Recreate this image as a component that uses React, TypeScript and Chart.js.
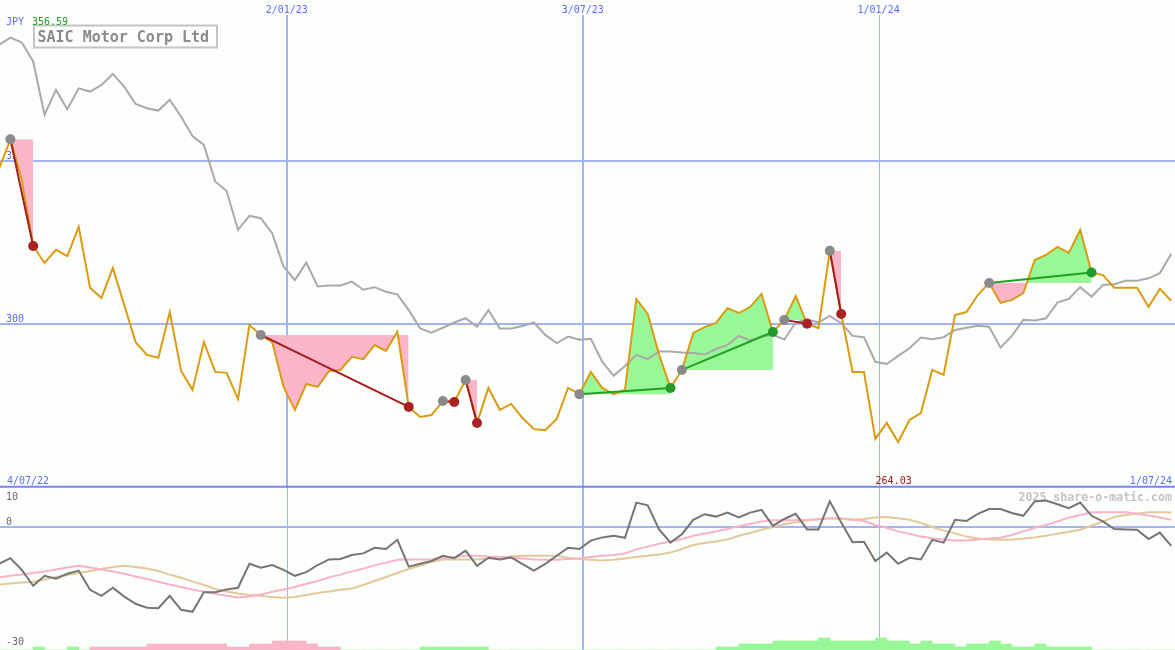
import React, { useEffect, useRef } from 'react';
import { Chart, registerables } from 'chart.js';

Chart.register(...registerables);

// ---------------- data ----------------
const companyName = 'SAIC Motor Corp Ltd';
const currencyLabel = 'JPY';
const firstCloseDate = '9/07/22';
const axisStartLabel = '4/07/22';
const axisEndLabel = '1/07/24';
const dateGridLabels = ['2/01/23', '3/07/23', '1/01/24'];
const priceGridValues = [350, 300];
const oscillatorTickValues = [10, 0, -30];
const watermark = '2025 share-o-matic.com';

// weekly closes
const price = [
  347.6, 356.59, 344.2, 324.0, 318.8, 322.8, 320.9, 329.8, 311.2, 308.1,
  317.3, 306.0, 294.6, 290.7, 289.8, 303.8, 285.8, 280.0, 294.6, 285.5,
  285.2, 277.2, 299.8, 296.8, 294.6, 280.9, 273.9, 281.8, 280.9, 285.8,
  286.1, 290.1, 289.4, 293.7, 291.9, 297.7, 274.8, 271.7, 272.3, 276.6,
  276.3, 283.0, 269.9, 280.6, 273.9, 275.7, 271.4, 268.0, 267.7, 271.1,
  280.6, 278.7, 285.5, 280.6, 278.7, 280.0, 307.8, 303.2, 290.7, 280.6,
  286.1, 297.4, 299.2, 300.5, 305.0, 303.5, 305.4, 309.3, 297.7, 301.4,
  308.7, 300.2, 298.9, 322.5, 303.2, 285.5, 285.5, 265.0, 269.9, 264.03,
  270.8, 272.9, 286.1, 284.6, 302.9, 303.8, 309.0, 312.7, 306.6, 307.5,
  309.6, 319.7, 321.3, 323.7, 321.9, 328.9, 315.9, 315.1, 311.2, 311.2,
  311.2, 305.4, 310.9, 307.2,
];

// market comparison line
const benchmark = [
  385.5, 387.7, 386.2, 380.4, 364.1, 371.7, 365.8, 372.2, 371.2, 373.2,
  376.6, 372.7, 367.4, 366.1, 365.4, 368.7, 363.5, 357.6, 354.9, 343.7,
  340.8, 328.9, 333.2, 332.5, 327.9, 317.7, 313.6, 318.9, 311.6, 311.9,
  311.9, 313.1, 310.6, 311.4, 310.0, 309.2, 304.4, 298.8, 297.5, 299.0,
  300.6, 301.9, 299.3, 304.4, 298.8, 298.8, 299.5, 300.6, 296.8, 294.3,
  296.3, 295.3, 295.6, 288.6, 284.3, 287.3, 290.7, 289.4, 291.7, 291.7,
  291.4, 291.3, 290.8, 292.5, 293.7, 296.5, 295.1, 296.3, 296.8, 295.4,
  300.6, 301.6, 300.6, 302.6, 300.4, 296.5, 296.1, 288.6, 287.9, 290.4,
  292.7, 296.0, 295.5, 296.1, 298.3, 299.0, 299.6, 299.3, 292.9, 296.5,
  301.4, 301.2, 301.9, 306.7, 307.8, 311.4, 308.5, 312.1, 312.3, 313.4,
  313.4, 314.1, 315.7, 321.6,
];

const momentum = [
  -9.1, -7.7, -10.6, -14.6, -12.1, -12.8, -11.6, -10.8, -15.6, -17.1,
  -15.1, -17.3, -19.1, -20.1, -20.2, -17.1, -20.6, -21.1, -16.2, -16.2,
  -15.5, -15.1, -9.1, -10.1, -9.4, -10.6, -12.1, -11.2, -9.4, -8.0,
  -7.9, -6.9, -6.5, -5.1, -5.4, -3.1, -9.8, -9.1, -8.4, -7.1,
  -7.7, -5.8, -9.6, -7.6, -8.0, -7.5, -9.2, -10.8, -9.1, -7.1,
  -5.1, -5.4, -3.3, -2.5, -2.1, -2.6, 6.2, 5.5, -0.5, -3.8,
  -1.7, 1.9, 3.3, 2.7, 3.7, 2.5, 3.7, 4.4, 0.4, 2.1,
  3.4, -0.5, -0.5, 6.5, 1.2, -3.7, -3.6, -8.4, -6.3, -9.1,
  -7.6, -8.0, -3.1, -3.8, 1.9, 1.6, 3.4, 4.6, 4.6, 3.6,
  2.9, 6.5, 6.7, 5.8, 4.8, 6.2, 2.9, 1.5, -0.4, -0.5,
  -0.6, -2.9, -1.3, -4.6,
];

const fastAverage = [
  -12.5, -12.1, -11.8, -11.4, -11.0, -10.5, -10.0, -9.6, -10.0, -10.5,
  -11.0, -11.6, -12.3, -12.9, -13.6, -14.3, -14.9, -15.5, -16.1, -16.6,
  -17.1, -17.5, -17.3, -16.8, -16.1, -15.5, -14.9, -14.1, -13.4, -12.5,
  -11.8, -11.0, -10.3, -9.5, -8.8, -8.1, -8.0, -8.0, -8.0, -7.6,
  -7.4, -7.1, -7.1, -7.3, -7.4, -7.5, -7.8, -8.0, -8.1, -8.1,
  -7.9, -7.7, -7.4, -7.1, -6.9, -6.5, -5.5, -4.8, -4.1, -3.5,
  -2.9, -2.1, -1.5, -1.0, -0.4, 0.3, 0.9, 1.5, 1.8, 1.8,
  1.8, 1.9, 2.0, 2.3, 2.3, 2.0, 1.6, 0.6, -0.1, -1.0,
  -1.6, -2.3, -2.7, -3.0, -3.3, -3.3, -3.0, -2.8, -2.6, -1.9,
  -1.0, -0.1, 0.6, 1.5, 2.4, 3.1, 3.8, 3.8, 3.8, 3.8,
  3.4, 3.0, 2.5, 1.9,
];

const slowAverage = [
  -14.3, -14.0, -13.8, -13.6, -13.0, -12.4, -11.9, -11.4, -10.9, -10.4,
  -9.9, -9.6, -9.9, -10.3, -10.9, -11.8, -12.6, -13.5, -14.4, -15.4,
  -16.0, -16.5, -16.9, -17.1, -17.4, -17.6, -17.4, -16.9, -16.4, -16.0,
  -15.6, -15.3, -14.4, -13.4, -12.4, -11.4, -10.4, -9.6, -8.6, -8.0,
  -8.0, -8.0, -8.0, -7.8, -7.5, -7.3, -7.1, -7.1, -7.1, -7.1,
  -7.6, -7.9, -8.1, -8.3, -8.1, -7.8, -7.4, -7.1, -6.8, -6.3,
  -5.4, -4.4, -3.9, -3.5, -3.0, -2.1, -1.4, -0.6, 0.1, 0.8,
  1.3, 1.8, 2.1, 2.3, 2.1, 1.9, 2.1, 2.5, 2.6, 2.3,
  1.9, 1.1, 0.1, -0.8, -1.5, -2.3, -2.8, -3.0, -3.1, -3.0,
  -2.8, -2.5, -2.1, -1.6, -1.1, -0.6, 0.4, 1.5, 2.6, 3.1,
  3.5, 3.8, 3.8, 3.7,
];

// signed strength bars along the bottom of the oscillator panel
const histogram = [
  0, 0, 0, 1, 0, 0, 1, 0, -1, -1,
  -1, -1, -1, -2, -2, -2, -2, -2, -2, -2,
  -1, -1, -2, -2, -3, -3, -3, -2, -1, -1,
  0, 0, 0, 0, 0, 0, 0, 1, 1, 1,
  1, 1, 1, 0, 0, 0, 0, 0, 0, 0,
  0, 0, 0, 0, 0, 0, 0, 0, 0, 0,
  0, 0, 0, 1, 1, 2, 2, 2, 3, 3,
  3, 3, 4, 3, 3, 3, 3, 4, 3, 3,
  2, 3, 2, 2, 1, 2, 2, 3, 2, 1,
  1, 2, 1, 1, 1, 1, 0, 0, 0, 0,
  0, 0, 0, 0,
];

// trade signals (week indexes)
const tradeEntries = [1, 23, 39, 41, 51, 60, 69, 73, 87];
const tradeExits = [3, 36, 40, 42, 59, 68, 71, 74, 96];

// ---------------- styling ----------------
const BG = '#fcfefc';
const GRID = '#a3b3f3';
const SEPARATOR = '#7686ea';
const BLUE_TEXT = '#5b6cf2';
const PRICE_COLOR = '#db9a12';
const BENCH_COLOR = '#a9a9a9';
const PINK_FILL = '#fbb5c9';
const GREEN_FILL = '#98f898';
const RED_LINE = '#a51c1c';
const RED_DOT = '#a82222';
const GREEN_LINE = '#22a022';
const GREEN_DOT = '#22992a';
const GRAY_DOT = '#8a8a8a';
const MOMENTUM_COLOR = '#757575';
const FAST_COLOR = '#f9b2c6';
const SLOW_COLOR = '#e3c99a';
const FONT = '10px "DejaVu Sans Mono", monospace';

const W = 1175;
const MAIN_H = 488;
const LOW_H = 162;

// ---------------- helpers ----------------
const DAY = 86400000;
const ORIGIN = Date.UTC(2022, 6, 4);
function dayOf(label: string): number {
  const [d, m, y] = label.split('/').map(Number);
  return (Date.UTC(2000 + y, m - 1, d) - ORIGIN) / DAY;
}
const firstDay = dayOf(firstCloseDate);
const dayAt = (i: number) => firstDay + 7 * i;
const X_MIN = dayOf(axisStartLabel) + 5.6;
const X_MAX = dayOf(axisEndLabel) + 0.3;
const toPoints = (arr: number[]) => arr.map((y, i) => ({ x: dayAt(i), y }));

const mainVWidths = [2, 2, 1];
const lowVWidths = [1, 2, 1];

function vline(ctx: CanvasRenderingContext2D, px: number, w: number, top: number, bottom: number) {
  const xx = w % 2 === 1 ? Math.round(px) + 0.5 : Math.round(px);
  ctx.lineWidth = w;
  ctx.beginPath();
  ctx.moveTo(xx, top);
  ctx.lineTo(xx, bottom);
  ctx.stroke();
}

const mainDecor = {
  id: 'mainDecor',
  beforeDatasetsDraw(chart: any) {
    const { ctx, chartArea: a, scales } = chart;
    const x = scales.x;
    const y = scales.y;
    ctx.save();
    ctx.strokeStyle = GRID;
    ctx.lineWidth = 2;
    for (const v of priceGridValues) {
      const py = Math.round(y.getPixelForValue(v));
      ctx.beginPath();
      ctx.moveTo(a.left, py);
      ctx.lineTo(a.right, py);
      ctx.stroke();
    }
    dateGridLabels.forEach((lab, k) => {
      vline(ctx, x.getPixelForValue(dayOf(lab)), mainVWidths[k], 15, a.bottom);
    });
    ctx.font = FONT;
    ctx.fillStyle = BLUE_TEXT;
    ctx.textAlign = 'left';
    ctx.textBaseline = 'alphabetic';
    for (const v of priceGridValues) {
      ctx.fillText(String(v), 6, Math.round(y.getPixelForValue(v)) - 2);
    }
    ctx.textAlign = 'center';
    for (const lab of dateGridLabels) {
      ctx.fillText(lab, x.getPixelForValue(dayOf(lab)), 13);
    }
    ctx.restore();
  },
  afterDatasetsDraw(chart: any) {
    const { ctx, chartArea: a, scales } = chart;
    const x = scales.x;
    ctx.save();
    // panel separator
    ctx.strokeStyle = SEPARATOR;
    ctx.lineWidth = 2;
    ctx.beginPath();
    ctx.moveTo(a.left, a.bottom - 1.3);
    ctx.lineTo(a.right, a.bottom - 1.3);
    ctx.stroke();

    // title box
    ctx.fillStyle = BG;
    ctx.fillRect(34, 25.5, 183, 22);
    ctx.strokeStyle = '#c4c4c4';
    ctx.lineWidth = 2;
    ctx.strokeRect(34, 25.5, 183, 22);
    ctx.font = 'bold 15px "DejaVu Sans Mono", monospace';
    ctx.fillStyle = '#8a8a8a';
    ctx.textAlign = 'left';
    ctx.textBaseline = 'alphabetic';
    ctx.fillText(companyName, 37.5, 41.5);

    // currency and high
    ctx.font = FONT;
    ctx.fillStyle = BLUE_TEXT;
    ctx.fillText(currencyLabel, 6, 25);
    ctx.fillStyle = '#22a022';
    ctx.fillText(Math.max(...price).toFixed(2), 32, 25);

    // bottom labels
    ctx.fillStyle = BLUE_TEXT;
    ctx.fillText(axisStartLabel, 7, 483.5);
    ctx.textAlign = 'right';
    ctx.fillText(axisEndLabel, 1172, 483.5);
    const lo = Math.min(...price);
    const loIdx = price.indexOf(lo);
    ctx.textAlign = 'center';
    ctx.fillStyle = '#a01818';
    ctx.fillText(lo.toFixed(2), x.getPixelForValue(dayAt(loIdx)) - 4.5, 483.5);
    ctx.restore();
  },
};

const lowDecor = {
  id: 'lowDecor',
  beforeDatasetsDraw(chart: any) {
    const { ctx, chartArea: a, scales } = chart;
    const x = scales.x;
    const y = scales.y;
    ctx.save();
    ctx.strokeStyle = GRID;
    ctx.lineWidth = 2;
    const py0 = Math.round(y.getPixelForValue(0));
    ctx.beginPath();
    ctx.moveTo(a.left, py0);
    ctx.lineTo(a.right, py0);
    ctx.stroke();
    dateGridLabels.forEach((lab, k) => {
      vline(ctx, x.getPixelForValue(dayOf(lab)), lowVWidths[k], a.top, a.bottom);
    });
    ctx.font = FONT;
    ctx.fillStyle = '#666666';
    ctx.textAlign = 'left';
    ctx.textBaseline = 'alphabetic';
    for (const v of oscillatorTickValues) {
      const py = Math.max(Math.round(y.getPixelForValue(v)) - 2, 11.5);
      ctx.fillText(String(v), 6, Math.min(py, a.bottom - 4));
    }
    ctx.font = 'bold 11.6px "DejaVu Sans Mono", monospace';
    ctx.fillStyle = '#c4c4c4';
    ctx.textAlign = 'right';
    ctx.fillText(watermark, 1172, 12.5);
    ctx.restore();
  },
};

function mainConfig(): any {
  const fills = tradeEntries.map((a, k) => {
    const b = tradeExits[k];
    return {
      type: 'line',
      data: toPoints(price).slice(a, b + 1),
      borderWidth: 0,
      borderColor: 'rgba(0,0,0,0)',
      backgroundColor: PINK_FILL,
      pointRadius: 0,
      tension: 0,
      fill: { target: { value: price[a] }, above: GREEN_FILL, below: PINK_FILL },
      order: 10,
    };
  });
  const tradeLines = tradeEntries.map((a, k) => {
    const b = tradeExits[k];
    const win = price[b] > price[a];
    return {
      type: 'line',
      data: [
        { x: dayAt(a), y: price[a] },
        { x: dayAt(b), y: price[b] },
      ],
      borderColor: win ? GREEN_LINE : RED_LINE,
      borderWidth: 2,
      pointRadius: 0,
      fill: false,
      order: 2,
    };
  });
  const dots = [
    ...tradeEntries.map((a) => ({ x: dayAt(a), y: price[a] })),
    ...tradeExits.map((b) => ({ x: dayAt(b), y: price[b] })),
  ];
  const dotColors = [
    ...tradeEntries.map(() => GRAY_DOT),
    ...tradeExits.map((b, k) => (price[b] > price[tradeEntries[k]] ? GREEN_DOT : RED_DOT)),
  ];
  return {
    type: 'line',
    data: {
      datasets: [
        ...fills,
        {
          type: 'line',
          data: toPoints(benchmark),
          borderColor: BENCH_COLOR,
          borderWidth: 2,
          pointRadius: 0,
          tension: 0,
          fill: false,
          order: 6,
        },
        {
          type: 'line',
          data: toPoints(price),
          borderColor: PRICE_COLOR,
          borderWidth: 2,
          pointRadius: 0,
          tension: 0,
          fill: false,
          order: 4,
        },
        ...tradeLines,
        {
          type: 'line',
          data: dots,
          showLine: false,
          pointRadius: 5,
          pointBorderWidth: 0,
          pointBackgroundColor: dotColors,
          fill: false,
          order: 1,
        },
      ],
    },
    options: {
      animation: false,
      responsive: false,
      events: [],
      layout: { padding: 0, autoPadding: false },
      plugins: { legend: { display: false }, tooltip: { enabled: false } },
      scales: {
        x: { type: 'linear', min: X_MIN, max: X_MAX, display: false, offset: false },
        y: { type: 'linear', min: 250, max: 399.2, display: false },
      },
    },
    plugins: [mainDecor],
  };
}

function lowerConfig(): any {
  const bars = histogram.map((v, i) => ({ x: dayAt(i) + 3.5, y: Math.abs(v) }));
  const barColors = histogram.map((v) => (v >= 0 ? GREEN_FILL : PINK_FILL));
  return {
    type: 'line',
    data: {
      datasets: [
        {
          type: 'bar',
          data: bars,
          yAxisID: 'yh',
          backgroundColor: barColors,
          borderWidth: 0,
          barPercentage: 1,
          categoryPercentage: 1,
          grouped: false,
          order: 6,
        },
        {
          type: 'line',
          data: toPoints(slowAverage),
          borderColor: SLOW_COLOR,
          borderWidth: 2,
          pointRadius: 0,
          tension: 0,
          fill: false,
          order: 4,
        },
        {
          type: 'line',
          data: toPoints(fastAverage),
          borderColor: FAST_COLOR,
          borderWidth: 2,
          pointRadius: 0,
          tension: 0,
          fill: false,
          order: 3,
        },
        {
          type: 'line',
          data: toPoints(momentum),
          borderColor: MOMENTUM_COLOR,
          borderWidth: 2,
          pointRadius: 0,
          tension: 0,
          fill: false,
          order: 2,
        },
      ],
    },
    options: {
      animation: false,
      responsive: false,
      events: [],
      layout: { padding: 0, autoPadding: false },
      plugins: { legend: { display: false }, tooltip: { enabled: false } },
      scales: {
        x: { type: 'linear', min: X_MIN, max: X_MAX, display: false, offset: false, grid: { offset: false } },
        y: { type: 'linear', min: -30.65, max: 9.85, display: false },
        yh: { type: 'linear', min: 0, max: 54, display: false },
      },
    },
    plugins: [lowDecor],
  };
}

export default function App() {
  const mainRef = useRef<HTMLCanvasElement>(null);
  const lowRef = useRef<HTMLCanvasElement>(null);
  useEffect(() => {
    const main = new Chart(mainRef.current as HTMLCanvasElement, mainConfig());
    const low = new Chart(lowRef.current as HTMLCanvasElement, lowerConfig());
    return () => {
      main.destroy();
      low.destroy();
    };
  }, []);
  return (
    <div
      style={{
        position: 'absolute',
        left: 0,
        top: 0,
        width: W,
        height: MAIN_H + LOW_H,
        background: BG,
        overflow: 'hidden',
      }}
    >
      <canvas
        ref={mainRef}
        width={W}
        height={MAIN_H}
        style={{ position: 'absolute', left: 0, top: 0, width: W, height: MAIN_H }}
      />
      <canvas
        ref={lowRef}
        width={W}
        height={LOW_H}
        style={{ position: 'absolute', left: 0, top: MAIN_H, width: W, height: LOW_H }}
      />
    </div>
  );
}
